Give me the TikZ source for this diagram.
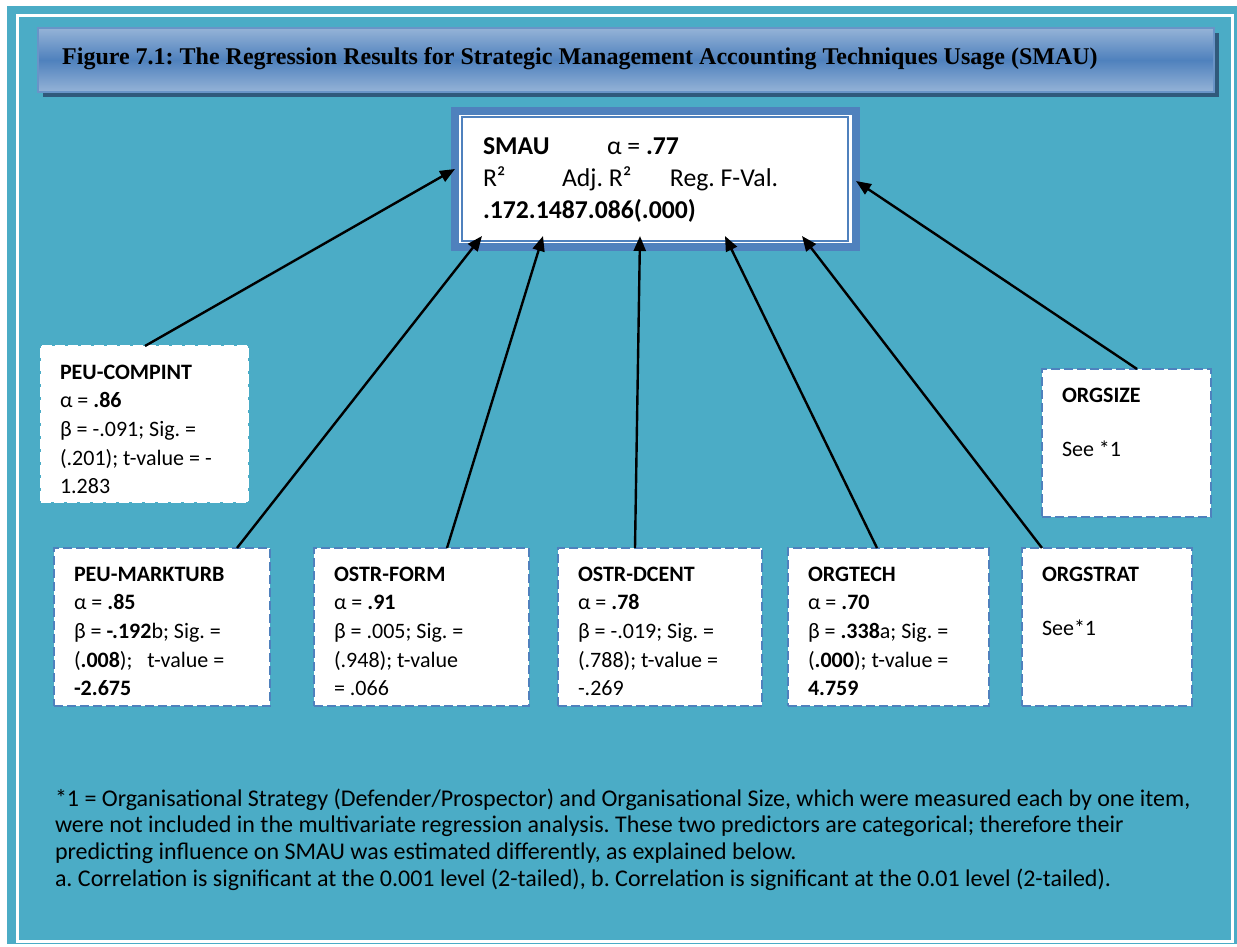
\documentclass[tikz,border=0pt]{standalone}
\usepackage{fontspec}
\setmainfont{Carlito}
\newfontfamily\titlefont{Liberation Serif}
\usetikzlibrary{arrows.meta}

\definecolor{aqua}{HTML}{4BACC6}
\definecolor{accent}{HTML}{4F81BD}
\definecolor{bannerlight}{HTML}{95B3D7}
\definecolor{bannershadow}{HTML}{30597B}

% fixed-size text panel: width, height, left indent, first baseline, lines
\newcommand\panel[5]{%
  \begin{minipage}[t][#2][t]{#1}%
    \leftskip=#3\relax\rightskip=0pt plus 1fil\relax\parindent=0pt
    \rule{0pt}{#4}#5%
  \end{minipage}}

\tikzset{
  card/.style={draw=accent, line width=2.5pt, dash pattern=on 9pt off 4pt,
    fill=white, inner sep=0pt, outer sep=0pt, anchor=north west,
    font=\fontsize{22pt}{28.7pt}\selectfont},
  cardwhite/.style={card, draw=white, dash pattern=on 10pt off 3pt},
  link/.style={line width=2.4pt, -{Triangle[length=15pt,width=12pt]}},
}

\begin{document}
\frenchspacing
\begin{tikzpicture}[x=1pt, y=-1pt]
\useasboundingbox (0,0) rectangle (1237,947);

% page frame
\fill[white] (0,0) rectangle (1237,947);
\fill[aqua] (7,6) rectangle (1237,944);
\draw[white, line width=3pt] (17,15.5) rectangle (1232,941);

% title banner
\fill[bannershadow] (43,33) rectangle (1219,97);
\shade[top color=bannerlight, bottom color=bannerlight, middle color=accent]
  (38,28) rectangle (1214,92);
\draw[accent!85!white, line width=1.5pt] (38,28) rectangle (1214,92);
\node[anchor=base west, inner sep=0pt, font=\titlefont\bfseries\fontsize{24pt}{28pt}\selectfont]
  (title) at (62,65)
  {Figure 7.1: The Regression Results for Strategic Management Accounting Techniques Usage (SMAU)};

% dependent variable
\node[draw=accent, line width=8pt, fill=white, inner sep=0pt, outer sep=0pt,
      anchor=north west, font=\fontsize{25.7pt}{31.5pt}\selectfont]
  (smau) at (455,111)
  {\panel{401pt}{136pt}{28pt}{44pt}{%
    \makebox[124pt][l]{\textbf{SMAU}}α = \textbf{.77}\\
    \makebox[79pt][l]{R²}\makebox[108pt][l]{Adj. R²}Reg. F-Val.\\
    \textbf{.172.1487.086(.000)}}};
\draw[accent, line width=1.5pt]
  ([shift={(7pt,-6pt)}]smau.north west) rectangle ([shift={(-8pt,6pt)}]smau.south east);

% predictors
\node[cardwhite] (peuc) at (41,346)
  {\panel{207pt}{156pt}{19pt}{33pt}{%
    \textbf{PEU-COMPINT}\\
    α = \textbf{.86}\\
    β = -.091; Sig. =\\
    (.201); t-value = -\\
    1.283}};

\node[card] (peum) at (54,548)
  {\panel{216pt}{158pt}{20pt}{33pt}{%
    \textbf{PEU-MARKTURB}\\
    α = \textbf{.85}\\
    β = \textbf{-.192}b; Sig. =\\
    (\textbf{.008});\ \ \ t-value =\\
    \textbf{-2.675}}};

\node[card] (ostf) at (314,548)
  {\panel{215pt}{158pt}{20pt}{33pt}{%
    \textbf{OSTR-FORM}\\
    α = \textbf{.91}\\
    β = .005; Sig. =\\
    (.948); t-value\\
    = .066}};

\node[card] (ostd) at (558,548)
  {\panel{204pt}{158pt}{20pt}{33pt}{%
    \textbf{OSTR-DCENT}\\
    α = \textbf{.78}\\
    β = -.019; Sig. =\\
    (.788); t-value =\\
    -.269}};

\node[card] (orgt) at (788,548)
  {\panel{201pt}{158pt}{20pt}{33pt}{%
    \textbf{ORGTECH}\\
    α = \textbf{.70}\\
    β = \textbf{.338}a; Sig. =\\
    (\textbf{.000}); t-value =\\
    \textbf{4.759}}};

\node[card] (orgst) at (1022,548)
  {\panel{170pt}{158pt}{20pt}{33pt}{%
    \textbf{ORGSTRAT}\\[25.3pt]
    See*1}};

\node[card] (orgsz) at (1042,369)
  {\panel{169pt}{148pt}{20pt}{33pt}{%
    \textbf{ORGSIZE}\\[25.3pt]
    See *1}};

% regression paths
\draw[link] ([xshift=104pt]peuc.north west) -- ([yshift=10pt]smau.west);
\draw[link] ([xshift=183pt]peum.north west) -- ([shift={(27pt,11pt)}]smau.south west);
\draw[link] ([xshift=133pt]ostf.north west) -- ([shift={(88pt,11pt)}]smau.south west);
\draw[link] ([xshift=77pt]ostd.north west) -- ([shift={(185pt,11pt)}]smau.south west);
\draw[link] ([xshift=89pt]orgt.north west) -- ([shift={(270pt,11pt)}]smau.south west);
\draw[link] ([xshift=20pt]orgst.north west) -- ([shift={(347pt,11pt)}]smau.south west);
\draw[link] ([xshift=95pt]orgsz.north west) -- ([yshift=-2pt]smau.east);

% notes
\node[anchor=north west, inner sep=0pt, outer sep=0pt,
      font=\fontsize{24pt}{26.8pt}\selectfont] (note) at (55,782)
  {\panel{1178pt}{110pt}{0pt}{24pt}{%
    *1 = Organisational Strategy (Defender/Prospector) and Organisational Size, which were measured each by one item,\\
    were not included in the multivariate regression analysis. These two predictors are categorical; therefore their\\
    predicting influence on SMAU was estimated differently, as explained below.\\
    a. Correlation is significant at the 0.001 level (2-tailed), b. Correlation is significant at the 0.01 level (2-tailed).}};
\end{tikzpicture}
\end{document}
